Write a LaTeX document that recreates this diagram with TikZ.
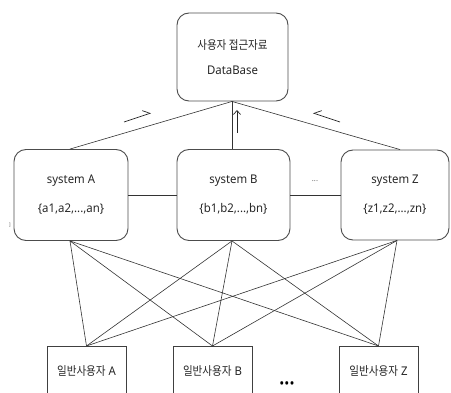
\documentclass[tikz,border=0pt]{standalone}
\usepackage{fontspec}
\setmainfont{Noto Sans}[FakeStretch=0.95]
\newfontfamily\kr{Noto Sans CJK KR}[FakeStretch=0.88]
\usetikzlibrary{arrows.meta,calc}
\begin{document}
\begin{tikzpicture}[x=1pt,y=-1pt,
  every node/.style={font=\fontsize{12}{14}\selectfont, text=black!85},
  sysbox/.style={draw=black!70, line width=0.9pt, rounded corners=12pt, minimum width=#1, minimum height=91pt, inner sep=0pt, align=center},
  userbox/.style={draw=black!75, line width=0.8pt, minimum width=79pt, minimum height=60pt, anchor=north, inner sep=0pt},
  link/.style={draw=black!80, line width=0.6pt},
  harp/.style={draw=black!85, line width=0.7pt}
]
\useasboundingbox (0,0) rectangle (451,393);
\clip (0,0) rectangle (451,393);
% database
\node[sysbox=111pt, minimum height=88pt] (db) at (232.5,57) {{\kr 사용자 접근자료}\\[11pt]DataBase};
% systems
\node[sysbox=114pt] (sa) at (71,195) {system A\\[15pt]\{a1,a2,...,an\}};
\node[sysbox=113pt] (sb) at (233.5,195) {system B\\[15pt]\{b1,b2,...,bn\}};
\node[sysbox=108pt, minimum height=90pt] (sz) at (395,195) {system Z\\[15pt]\{z1,z2,...,zn\}};
% users
\node[userbox] (ua) at (86.5,346) {};
\node[userbox] (ub) at (212.5,346) {};
\node[userbox] (uz) at (378.5,346) {};
\node (uat) at (86.5,371) {{\kr 일반사용자} A};
\node (ubt) at (212.5,371) {{\kr 일반사용자} B};
\node (uzt) at (378.5,371) {{\kr 일반사용자} Z};
% db links
\coordinate (dbb) at ($(db.south)+(-0.5,0)$);
\coordinate (sat) at ($(sa.north)+(-1,0)$);
\coordinate (szt) at ($(sz.north)+(5,0)$);
\draw[link] (dbb) -- (sat);
\draw[link] (dbb) -- (szt);
\draw[link] (dbb) -- (dbb |- sb.north);
% horizontal links
\draw[link] (sa.east) -- (sb.west);
\draw[link] (sb.east) -- (sz.west);
\node[font=\fontsize{8}{9}\selectfont, text=black!60] (dots1) at (315,181) {...};
% harpoons
\coordinate (h1s) at (124,122); \coordinate (h1e) at (151,113);
\draw[harp, -{Straight Barb[left, length=6.5pt, width=10pt]}] (h1s) -- (h1e);
\coordinate (h2s) at (340,122); \coordinate (h2e) at (313,113);
\draw[harp, -{Straight Barb[right, length=6.5pt, width=10pt]}] (h2s) -- (h2e);
\coordinate (h3s) at (237,133); \coordinate (h3e) at (237,110);
\draw[harp, -{Straight Barb[length=4pt, width=7pt]}] (h3s) -- (h3e);
% lower mesh
\coordinate (sab) at ($(sa.south)+(-1,0)$);
\coordinate (sbb) at ($(sb.south)+(-1.5,0)$);
\coordinate (szb) at ($(sz.south)+(2,0)$);
\foreach \s in {sab,sbb,szb}{
  \foreach \u in {ua,ub,uz}{
    \draw[link] (\s) -- (\u.north);
  }
}
% ellipsis below
\node[font=\fontsize{14}{15}\selectfont\bfseries, text=black, inner sep=0pt] (dots2) at (287,385) {•••};
% stray mark
\node[font=\fontsize{5}{6}\selectfont, text=black!60] (stray) at (10,225) {]};
\end{tikzpicture}
\end{document}
